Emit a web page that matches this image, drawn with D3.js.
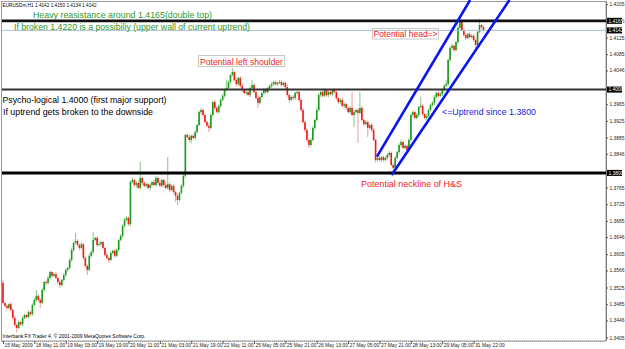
<!DOCTYPE html>
<html><head><meta charset="utf-8">
<script src="https://cdn.jsdelivr.net/npm/d3@7"></script>
<style>html,body{margin:0;padding:0;background:#fff;overflow:hidden}svg{display:block}</style>
</head><body>
<svg id="c" width="625" height="349"></svg>
<script>
// ---------- DATA ----------
const symbolHeader = "EURUSDm,H1  1.4142 1.4150 1.4134 1.4142";
const copyright = "Interbank FX Trader 4, \u00A9 2001-2009 MetaQuotes Software Corp.";
const firstOpen = 1.3536;
const closes = [
1.3488,1.3481,1.3476,1.3485,1.3471,1.3452,1.3435,1.3428,1.3442,1.3437,
1.3452,1.3459,1.3454,1.3466,1.3461,1.3483,1.3495,1.3505,1.3495,1.3488,
1.3519,1.3538,1.3536,1.3548,1.3562,1.3553,1.3557,1.3548,1.3538,1.3531,
1.3543,1.3555,1.3567,1.3572,1.3591,1.3615,1.3632,1.3637,1.3627,1.3620,
1.3629,1.3596,1.3577,1.3567,1.3601,1.3610,1.3639,1.3644,1.3627,1.3629,
1.3634,1.3620,1.3603,1.3596,1.3591,1.3608,1.3613,1.3601,1.3615,1.3639,
1.3649,1.3673,1.3687,1.3692,1.3677,1.3778,1.3783,1.3771,1.3776,1.3764,
1.3788,1.3776,1.3769,1.3773,1.3764,1.3771,1.3778,1.3771,1.3788,1.3776,
1.3769,1.3783,1.3771,1.3764,1.3773,1.3759,1.3769,1.3754,1.3745,1.3735,
1.3752,1.3769,1.3793,1.3891,1.3886,1.3879,1.3889,1.3884,1.3898,1.3915,
1.3946,1.3951,1.3939,1.3922,1.3913,1.3908,1.3939,1.3970,1.3956,1.3946,
1.3961,1.3975,1.3985,1.3999,1.4004,1.4018,1.4035,1.4042,1.4023,1.4013,
1.4028,1.4009,1.3999,1.3992,1.3994,1.3987,1.4004,1.4011,1.3994,1.3980,
1.3968,1.3982,1.3992,1.3999,1.3994,1.4004,1.4009,1.4013,1.4018,1.4013,
1.4016,1.4018,1.4011,1.4016,1.4006,1.3987,1.3975,1.3982,1.3980,1.3992,
1.3994,1.3975,1.3951,1.3922,1.3903,1.3879,1.3867,1.3879,1.3908,1.3927,
1.3951,1.3987,1.3994,1.3985,1.3999,1.3987,1.3994,1.3989,1.3999,1.3994,
1.3980,1.3970,1.3975,1.3961,1.3965,1.3956,1.3946,1.3956,1.3939,1.3946,
1.3951,1.3944,1.3956,1.3927,1.3917,1.3922,1.3908,1.3915,1.3903,1.3879,
1.3831,1.3836,1.3831,1.3838,1.3831,1.3836,1.3843,1.3848,1.3819,1.3812,
1.3836,1.3850,1.3867,1.3874,1.3860,1.3865,1.3855,1.3879,1.3939,1.3946,
1.3932,1.3939,1.3958,1.3961,1.3941,1.3932,1.3937,1.3951,1.3963,1.3968,
1.3982,1.3992,1.3985,1.3989,1.3999,1.4009,1.4013,1.4071,1.4100,1.4105,
1.4095,1.4114,1.4148,1.4162,1.4143,1.4131,1.4124,1.4133,1.4126,1.4129,
1.4119,1.4107,1.4138,1.4155,1.4150,1.4142];
// upper / lower wick beyond the body, in pips
const hiWick = [
8,3,4,2,5,3,4,3,5,2, 4,3,2,5,3,4,6,14,3,4, 5,3,4,6,3,2,4,5,3,4, 3,5,4,3,4,6,3,19,4,3,
5,2,4,3,5,4,19,3,4,5, 3,4,2,5,3,4,3,5,4,3, 4,3,5,4,3,4,6,3,4,5, 38,3,4,5,3,4,3,6,4,3,
5,4,3,6,65,4,3,5,3,4, 3,4,5,3,4,6,3,4,5,3, 4,5,3,4,3,6,4,3,5,4, 3,4,5,3,19,4,3,10,4,5,
3,4,6,3,4,5,3,12,4,3, 5,4,3,4,5,3,4,6,3,4, 3,5,4,3,4,6,3,4,5,3, 4,3,5,4,3,4,3,5,4,3,
6,4,3,5,4,3,4,5,3,4, 5,3,4,6,3,4,3,5,38,4, 3,5,38,4,3,5,4,3,4,5, 3,4,5,3,4,3,5,4,3,4,
5,3,4,6,3,4,3,5,4,3, 4,5,3,22,4,3,5,4,3,4, 5,3,4,5,3,4,10,3,4,5, 3,4,6,14,3,4,5,3,4,3,
5,4,3,14,3,3];
const loWick = [
4,3,5,4,3,4,5,10,3,4, 5,3,4,3,5,4,3,4,5,12, 3,4,5,3,4,6,3,4,5,7, 4,3,5,4,3,4,5,3,4,6,
3,4,5,12,3,4,5,3,4,3, 5,4,3,4,7,3,4,5,3,4, 3,5,4,3,4,5,3,4,6,3, 4,5,3,4,3,5,4,3,4,5,
3,4,6,3,4,5,3,4,15,12, 4,3,5,4,3,4,7,3,5,4, 3,4,5,3,4,10,3,4,5,3, 4,5,3,4,3,5,4,3,4,6,
3,4,5,3,4,3,5,4,3,4, 12,4,3,5,4,3,4,5,3,4, 5,3,4,3,5,4,6,3,4,5, 3,4,5,3,4,5,7,4,3,5,
4,3,5,4,3,4,5,3,4,3, 5,4,6,3,4,5,3,4,3,29, 4,72,3,5,4,3,22,4,5,3, 6,4,3,5,4,3,4,5,3,12,
4,3,5,4,3,4,5,3,4,5, 3,4,5,3,4,3,5,4,3,4, 5,3,4,3,5,4,3,4,5,3, 4,3,5,4,3,4,5,3,4,3,
5,7,4,3,4,3];
const timeTickIdx = [0,16,32,48,64,80,96,112,128,144,160,176,192,208,224,240];
const timeLabels = ["15 May 2009","18 May 11:00","19 May 03:00","19 May 19:00","20 May 11:00",
  "21 May 03:00","21 May 19:00","22 May 11:00","25 May 05:00","25 May 21:00","26 May 13:00",
  "27 May 05:00","27 May 21:00","28 May 13:00","29 May 05:00","31 May 22:00"];
const priceTicks = [1.4205,1.4165,1.4125,1.4085,1.4046,1.3965,1.3925,1.3885,1.3846,1.3765,
  1.3725,1.3685,1.3646,1.3605,1.3566,1.3525,1.3485,1.3446,1.3405];
const levelPrices = [1.4165, 1.4000, 1.3800];
const bidPrice = 1.4142;
const channelUpper = [[190.7, 1.3839], [238.2, 1.4215]];
const channelLower = [[198.2, 1.3795], [258.3, 1.4215]];
const notes = {
  resistance: "Heavy reasistance around 1.4165(double top)",
  broken: "If broken 1.4220 is a possibiliy (upper wall of current uptrend)",
  psycho: "Psycho-logical 1.4000 (first major support)",
  uptrend: "If uptrend gets broken to the downside",
  shoulder: "Potential left shoulder",
  head: "Potential head=>",
  since: "<=Uptrend since 1.3800",
  neckline: "Potential neckline of H&S"
};

// ---------- DRAW ----------
const svg = d3.select("#c");
const FONT = "'Liberation Sans', Arial, sans-serif";
const L = 2, R = 606, T = 1.5, B = 341;
const x = d3.scaleLinear().domain([-0.5, 307.5]).range([L, R]);
const y = d3.scaleLinear().domain([1.4215 - 0.00024 * 341, 1.4215]).range([341, 0]);

// frame
svg.append("rect").attr("x", 1.5).attr("y", T).attr("width", R - 1.5).attr("height", B - T)
  .attr("fill", "#fff").attr("stroke", "#9a9a9a").attr("stroke-width", 1);

// candles
const bars = closes.map((c, i) => {
  const o = i === 0 ? firstOpen : closes[i - 1];
  return { i, o, c, h: Math.max(o, c) + hiWick[i] * 1e-4, l: Math.min(o, c) - loWick[i] * 1e-4 };
});
const g = svg.append("g");
g.selectAll("line.w").data(bars).join("line").attr("class", "w")
  .attr("x1", d => x(d.i)).attr("x2", d => x(d.i))
  .attr("y1", d => y(d.h)).attr("y2", d => y(d.l))
  .attr("stroke", d => d.c >= d.o ? "#8fcf8f" : "#f6a3a3").attr("stroke-width", 1.1);
g.selectAll("rect.b").data(bars).join("rect").attr("class", "b")
  .attr("x", d => x(d.i) - 0.8).attr("width", 1.6)
  .attr("y", d => y(Math.max(d.o, d.c)))
  .attr("height", d => Math.max(1, y(Math.min(d.o, d.c)) - y(Math.max(d.o, d.c))))
  .attr("fill", d => d.c >= d.o ? "#1e9a1e" : "#f01818");

// level lines
const lw = [2.6, 2, 3];
const lc = ["#111", "#333", "#000"];
svg.selectAll("line.lvl").data(levelPrices).join("line").attr("class", "lvl")
  .attr("x1", L).attr("x2", R).attr("y1", d => y(d)).attr("y2", d => y(d))
  .attr("stroke", (d, i) => lc[i]).attr("stroke-width", (d, i) => lw[i]);
svg.append("line").attr("x1", L).attr("x2", R).attr("y1", y(bidPrice)).attr("y2", y(bidPrice))
  .attr("stroke", "#aebfd4").attr("stroke-width", 1);

// channel lines
const ln = d3.line().x(d => x(d[0])).y(d => y(d[1]));
[channelUpper, channelLower].forEach(pts => {
  svg.append("path").attr("d", ln(pts)).attr("fill", "none")
    .attr("stroke", "#0a14f0").attr("stroke-width", 2.6);
});

// texts
function txt(s, tx, ty, size, color, width, weight) {
  const t = svg.append("text").attr("x", tx).attr("y", ty).text(s)
    .attr("font-family", FONT).attr("font-size", size).attr("fill", color);
  if (width) t.attr("textLength", width).attr("lengthAdjust", "spacingAndGlyphs");
  if (weight) t.attr("font-weight", weight);
  return t;
}
txt(symbolHeader, 2.5, 7, 4.9, "#000", 94);
txt(notes.resistance, 33, 17.5, 9, "#2e9a2e", 179);
txt(notes.broken, 14, 29.5, 9, "#2e9a2e", 236);
txt(notes.psycho, 2.5, 102.5, 9, "#000", 164);
txt(notes.uptrend, 3, 114.5, 9, "#000", 150);
// boxed notes
svg.append("rect").attr("x", 198.5).attr("y", 55.5).attr("width", 86).attr("height", 11)
  .attr("fill", "none").attr("stroke", "#c8c8c8").attr("stroke-width", 1);
txt(notes.shoulder, 200, 64.5, 9, "#f01c1c", 83);
svg.append("rect").attr("x", 372.5).attr("y", 28.5).attr("width", 66).attr("height", 10.5)
  .attr("fill", "none").attr("stroke", "#c8c8c8").attr("stroke-width", 1);
txt(notes.head, 373.5, 37.3, 9, "#f01c1c", 64);
txt(notes.since, 442, 115, 9, "#2020e0", 94);
txt(notes.neckline, 361, 186.5, 9, "#f01c1c", 101);
txt(copyright, 2.5, 337.5, 4.9, "#000", 143);

// price axis
const ya = svg.append("g").attr("transform", `translate(${R},0)`)
  .call(d3.axisRight(y).tickValues(priceTicks).tickSize(2).tickPadding(1.5).tickFormat(d3.format(".4f")));
ya.select(".domain").attr("stroke", "#7a7a7a").attr("d", `M0.5,${T}V${B}`);
ya.selectAll("line").attr("stroke", "#555");
ya.selectAll("text").attr("font-family", FONT).attr("font-size", 4.9).attr("fill", "#222");
const marks = [...levelPrices, bidPrice];
marks.forEach(p => {
  svg.append("rect").attr("x", R + 1).attr("y", y(p) - 3).attr("width", 15).attr("height", 6).attr("fill", "#000");
  txt(d3.format(".4f")(p), R + 2.5, y(p) + 1.7, 4.9, "#fff");
});

// time axis
const xa = svg.append("g").attr("transform", `translate(0,${B})`)
  .call(d3.axisBottom(x).tickValues(timeTickIdx).tickSize(3).tickFormat((d, i) => timeLabels[i]));
xa.select(".domain").attr("stroke", "#999").attr("stroke-dasharray", "1,1").attr("d", `M${L},0.5H${R}`);
xa.selectAll("line").attr("stroke", "#555");
xa.selectAll("text").attr("font-family", FONT).attr("font-size", 4.9).attr("fill", "#222")
  .attr("text-anchor", "start").attr("dx", 1).attr("y", 2.5).attr("dy", "0.71em");
</script>
</body></html>
